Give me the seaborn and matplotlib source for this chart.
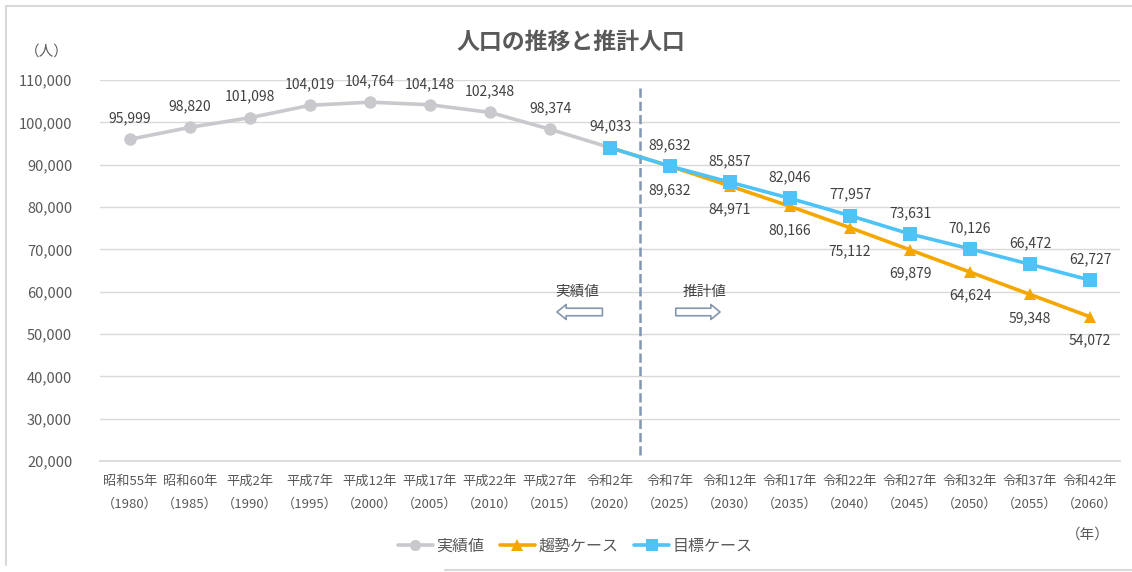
import matplotlib
matplotlib.use("Agg")
import matplotlib.pyplot as plt
import numpy as np
import pandas as pd
import seaborn as sns
from matplotlib.lines import Line2D

sns.set_theme(style="white")
plt.rcParams["font.family"] = ["Noto Sans CJK JP", "DejaVu Sans"]

# 和暦ラベルと西暦
era = ["昭和55年", "昭和60年", "平成2年", "平成7年", "平成12年", "平成17年",
       "平成22年", "平成27年", "令和2年", "令和7年", "令和12年", "令和17年",
       "令和22年", "令和27年", "令和32年", "令和37年", "令和42年"]
years = [1980, 1985, 1990, 1995, 2000, 2005, 2010, 2015, 2020,
         2025, 2030, 2035, 2040, 2045, 2050, 2055, 2060]

actual = [95999, 98820, 101098, 104019, 104764, 104148, 102348, 98374, 94033]
trend = [94033, 89632, 84971, 80166, 75112, 69879, 64624, 59348, 54072]
target = [94033, 89632, 85857, 82046, 77957, 73631, 70126, 66472, 62727]

labels = ["{}\n（{}）".format(e, y) for e, y in zip(era, years)]
n_act = len(actual)

c_gray = "#C9C9CD"
c_orange = "#F5A700"
c_blue = "#4DC3F8"
c_text = "#595959"

df_act = pd.DataFrame({"x": np.arange(n_act), "v": actual})
df_trend = pd.DataFrame({"x": np.arange(n_act - 1, len(years)), "v": trend})
df_target = pd.DataFrame({"x": np.arange(n_act - 1, len(years)), "v": target})

fig = plt.figure(figsize=(11.32, 5.72), dpi=100)
ax = fig.add_axes([100 / 1132, 1 - 461 / 572, 1020 / 1132, (461 - 80) / 572])

sns.lineplot(data=df_act, x="x", y="v", ax=ax, color=c_gray, lw=2.6,
             marker="o", markersize=9, markeredgewidth=0, zorder=3)
sns.lineplot(data=df_trend, x="x", y="v", ax=ax, color=c_orange, lw=2.6,
             marker="^", markersize=8, markeredgewidth=0, zorder=4)
sns.lineplot(data=df_target, x="x", y="v", ax=ax, color=c_blue, lw=2.6,
             marker="s", markersize=10, markeredgewidth=0, zorder=5)

# data labels
for i, v in enumerate(actual):
    ax.annotate("{:,}".format(v), (i, v), xytext=(0, 10), textcoords="offset points",
                ha="center", va="bottom", fontsize=10, color="#404040")
for i, v in enumerate(target[1:], start=n_act):
    ax.annotate("{:,}".format(v), (i, v), xytext=(0, 10), textcoords="offset points",
                ha="center", va="bottom", fontsize=10, color="#404040")
for i, v in enumerate(trend[1:], start=n_act):
    ax.annotate("{:,}".format(v), (i, v), xytext=(0, -12), textcoords="offset points",
                ha="center", va="top", fontsize=10, color="#404040")

ax.set_xlim(-0.5, len(years) - 0.5)
ax.set_ylim(20000, 110000)
ax.set_yticks(np.arange(20000, 110001, 10000))
ax.set_yticklabels(["{:,}".format(t) for t in range(20000, 110001, 10000)],
                   fontsize=10.5, color=c_text)
ax.set_xticks(np.arange(len(years)))
ax.set_xticklabels(labels, fontsize=9.5, color=c_text, linespacing=2.0)
ax.tick_params(axis="x", length=0, pad=10)
ax.tick_params(axis="y", length=0, pad=20)
ax.set_xlabel("")
ax.set_ylabel("")
ax.grid(axis="y", color="#D9D9D9", lw=1)
ax.set_axisbelow(True)
for s in ["top", "right", "left"]:
    ax.spines[s].set_visible(False)
ax.spines["bottom"].set_color("#D9D9D9")

# 実績値 / 推計値 の境界
ax.axvline(n_act - 0.5, ymin=0.015, ymax=0.99, color="#8497B0", ls="--", lw=1.8, zorder=2)
arrow = dict(arrowstyle="simple,head_length=0.55,head_width=0.9,tail_width=0.45",
             fc="white", ec="#8497B0", lw=1.2)
ax.annotate("", xy=(7.07, 55200), xytext=(7.92, 55200), arrowprops=arrow)
ax.annotate("", xy=(9.88, 55200), xytext=(9.05, 55200), arrowprops=arrow)
ax.text(7.45, 59900, "実績値", ha="center", va="center", fontsize=10.5, color="#404040")
ax.text(9.57, 59900, "推計値", ha="center", va="center", fontsize=10.5, color="#404040")

fig.text(571 / 1132, 1 - 42 / 572, "人口の推移と推計人口", ha="center", va="center",
         fontsize=16.5, fontweight="bold", color=c_text)
fig.text(47 / 1132, 1 - 52 / 572, "（人）", ha="center", va="center", fontsize=10.5, color=c_text)
fig.text(1088 / 1132, 1 - 535 / 572, "（年）", ha="center", va="center", fontsize=10.5, color=c_text)

handles = [
    Line2D([], [], color=c_gray, lw=2.6, marker="o", markersize=8, markeredgewidth=0),
    Line2D([], [], color=c_orange, lw=2.6, marker="^", markersize=8, markeredgewidth=0),
    Line2D([], [], color=c_blue, lw=2.6, marker="s", markersize=9, markeredgewidth=0),
]
fig.legend(handles, ["実績値", "趨勢ケース", "目標ケース"], loc="center", ncol=3,
           bbox_to_anchor=(575 / 1132, 1 - 546 / 572), frameon=False, fontsize=11.5,
           handlelength=2.2, handletextpad=0.2, columnspacing=1.0, labelcolor=c_text)

# outer frame
frame = dict(color="#D9D9D9", lw=1.5, transform=fig.transFigure)
fig.add_artist(Line2D([6 / 1132, 1], [1 - 6 / 572, 1 - 6 / 572], **frame))
fig.add_artist(Line2D([6 / 1132, 6 / 1132], [1 - 6 / 572, 1 - 565 / 572], **frame))
fig.add_artist(Line2D([445 / 1132, 1], [1 - 570 / 572, 1 - 570 / 572], **frame))

fig.savefig("out.png", dpi=100)
